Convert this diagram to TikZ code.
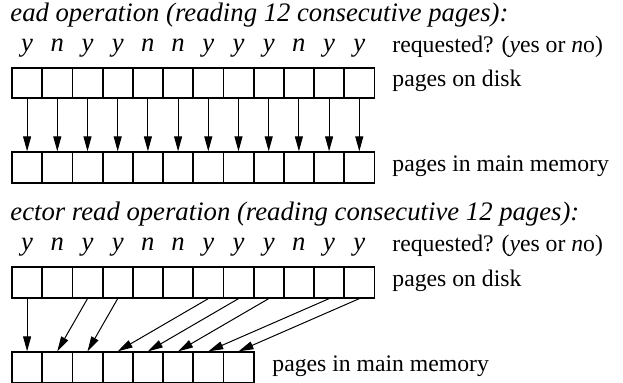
\documentclass[tikz,border=0pt]{standalone}
\usepackage{fontspec}
\setmainfont{Liberation Serif}
\usetikzlibrary{arrows.meta, positioning}

\begin{document}
\begin{tikzpicture}[x=0.5pt, y=-0.5pt,
  every node/.style={font=\fontsize{11.85}{14}\selectfont},
  page/.style={draw, rectangle, line width=0.9pt, minimum width=15.1pt, minimum height=15.25pt, inner sep=0pt},
  flag/.style={anchor=base, inner sep=0pt, font=\fontsize{13.35}{16}\selectfont\itshape},
  heading/.style={anchor=base west, inner sep=0pt, font=\fontsize{13.35}{16}\selectfont\itshape},
  side/.style={anchor=base west, inner sep=0pt},
  fetch/.style={-{Triangle[length=7.5pt, width=4pt]}, line width=0.5pt}]
  \useasboundingbox (0,0) rectangle (623,383);

  % read operation
  \node (head) [heading] at (10,22) {ead operation (reading 12 consecutive pages):};
  \foreach \f [count=\i] in {y,n,y,y,n,n,y,y,y,n,y,y}
    \node (q\i) [flag] at ({30.2*\i-3.1},52) {\f};
  \foreach \i in {1,...,12} {
    \node (d\i) [page] at ({30.2*\i-3.1},83) {};
    \node (m\i) [page] at ({30.2*\i-3.1},167.5) {};
    \draw [fetch] (d\i.south) -- (m\i.north);
  }
  \node (ask) [side] at (392,53) {requested? (\textit{y}es or \textit{n}o)};
  \node (disk) [side] at (392,87) {pages on disk};
  \node (mem) [side] at (392,171.5) {pages in main memory};

  % vector read operation
  \node (vhead) [heading] at (10,221) {ector read operation (reading consecutive 12 pages):};
  \foreach \f [count=\i] in {y,n,y,y,n,n,y,y,y,n,y,y}
    \node (vq\i) [flag] at ({30.2*\i-3.1},251) {\f};
  \foreach \i in {1,...,12}
    \node (vd\i) [page] at ({30.2*\i-3.1},282.5) {};
  \foreach \i in {1,...,8}
    \node (vm\i) [page] at ({30.2*\i-3.1},367.5) {};
  \foreach \s/\t in {1/1,3/2,4/3,7/4,8/5,9/6,11/7,12/8}
    \draw [fetch] (vd\s.south) -- (vm\t.north);
  \node (vask) [side] at (392,252) {requested? (\textit{y}es or \textit{n}o)};
  \node (vdisk) [side] at (392,286.5) {pages on disk};
  \node (vmem) [side] at (272,371.5) {pages in main memory};
\end{tikzpicture}
\end{document}
